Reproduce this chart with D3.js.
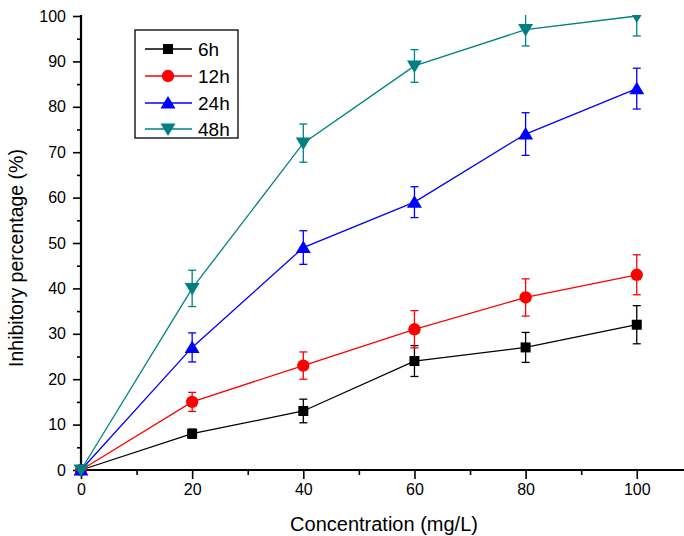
<!DOCTYPE html>
<html><head><meta charset="utf-8">
<script src="https://cdn.jsdelivr.net/npm/d3@7"></script>
<style>body{margin:0;background:#fff}svg{display:block}text{font-family:"Liberation Sans",Arial,sans-serif}</style>
</head><body>
<svg id="c" width="684" height="536"></svg>
<script>
const concentrations = [0, 20, 40, 60, 80, 100];
const seriesNames = ["6h", "12h", "24h", "48h"];
const seriesColors = ["#000000", "#ff0000", "#0000ff", "#008080"];
const seriesShapes = ["square", "circle", "triangle", "triangleDown"];
const values6h  = [0, 8, 13, 24, 27, 32];
const values12h = [0, 15, 23, 31, 38, 43];
const values24h = [0, 27, 49, 59, 74, 84];
const values48h = [0, 40, 72, 89, 97, 100];
const errors6h  = [0, 1.0, 2.6, 3.4, 3.3, 4.2];
const errors12h = [0, 2.1, 3.0, 4.1, 4.1, 4.4];
const errors24h = [0, 3.2, 3.7, 3.4, 4.7, 4.5];
const errors48h = [0, 4.0, 4.2, 3.6, 3.6, 4.4];
const yTicks = [0, 10, 20, 30, 40, 50, 60, 70, 80, 90, 100];
const xTickLabels = [0, 20, 40, 60, 80, 100];

const allValues = [values6h, values12h, values24h, values48h];
const allErrors = [errors6h, errors12h, errors24h, errors48h];

const svg = d3.select("#c");
const x = d3.scaleLinear().domain([0, 108.5]).range([81, 684]);
const y = d3.scaleLinear().domain([0, 100]).range([470, 16]);

svg.append("defs").append("clipPath").attr("id", "clip")
  .append("rect").attr("x", 70).attr("y", 15).attr("width", 620).attr("height", 470);

// axes
const xAxis = d3.axisBottom(x).tickValues(d3.range(0, 101, 10)).tickSize(8).tickPadding(9)
  .tickFormat(d => xTickLabels.includes(d) ? d : "");
const gx = svg.append("g").attr("transform", `translate(0,${y(0)})`).call(xAxis);
gx.select(".domain").attr("d", `M${x(0)},0H684`).attr("stroke-width", 2.2);
gx.selectAll(".tick line").attr("stroke-width", 1.6).attr("y2", d => xTickLabels.includes(d) ? 9 : 5);
gx.selectAll("text").attr("font-size", 16).attr("fill", "#000").attr("y", 14);

const yAxis = d3.axisLeft(y).tickValues(d3.range(0, 101, 5)).tickSize(8).tickPadding(7)
  .tickFormat(d => yTicks.includes(d) ? d : "");
const gy = svg.append("g").attr("transform", `translate(${x(0)},0)`).call(yAxis);
gy.select(".domain").attr("d", `M0,${y(0)}V${y(100)-1}`).attr("stroke-width", 2.2);
gy.selectAll(".tick line").attr("stroke-width", 1.6).attr("x2", d => yTicks.includes(d) ? -8 : -4);
gy.selectAll("text").attr("font-size", 16).attr("fill", "#000").attr("x", -15);

svg.append("text").attr("x", 384).attr("y", 531).attr("text-anchor", "middle")
  .attr("font-size", 20).text("Concentration (mg/L)");
svg.append("text").attr("transform", "translate(23,258) rotate(-90)").attr("text-anchor", "middle")
  .attr("font-size", 19.5).text("Inhibitory percentage (%)");

function symbolPath(shape) {
  if (shape === "square") return d3.symbol(d3.symbolSquare, 100)();
  if (shape === "circle") return d3.symbol(d3.symbolCircle, 120)();
  if (shape === "triangle") return "M0,-7L7.5,5.5L-7.5,5.5Z";
  return "M0,7L7.5,-5.5L-7.5,-5.5Z";
}

const plot = svg.append("g").attr("clip-path", "url(#clip)");
const line = d3.line().x((d, i) => x(concentrations[i])).y(d => y(d));

seriesNames.forEach((name, s) => {
  const col = seriesColors[s];
  const g = plot.append("g");
  g.append("path").datum(allValues[s]).attr("d", line).attr("fill", "none")
    .attr("stroke", col).attr("stroke-width", 1.3);
  allValues[s].forEach((v, i) => {
    const e = allErrors[s][i];
    if (e <= 0) return;
    const cx = x(concentrations[i]);
    const eg = g.append("g").attr("stroke", col).attr("stroke-width", 1.3);
    eg.append("line").attr("x1", cx).attr("x2", cx).attr("y1", y(v + e)).attr("y2", y(v - e));
    eg.append("line").attr("x1", cx - 4).attr("x2", cx + 4).attr("y1", y(v + e)).attr("y2", y(v + e));
    eg.append("line").attr("x1", cx - 4).attr("x2", cx + 4).attr("y1", y(v - e)).attr("y2", y(v - e));
  });
  g.selectAll("path.m").data(allValues[s]).enter().append("path").attr("class", "m")
    .attr("d", symbolPath(seriesShapes[s]))
    .attr("transform", (d, i) => `translate(${x(concentrations[i])},${y(d)})`)
    .attr("fill", col);
});

// legend
const lg = svg.append("g");
lg.append("rect").attr("x", 135).attr("y", 30).attr("width", 103).attr("height", 108)
  .attr("fill", "#fff").attr("stroke", "#000").attr("stroke-width", 1.3);
const legY = [49, 76, 103, 129];
seriesNames.forEach((name, s) => {
  const ly = legY[s];
  lg.append("line").attr("x1", 145).attr("x2", 192).attr("y1", ly).attr("y2", ly)
    .attr("stroke", seriesColors[s]).attr("stroke-width", 1.3);
  lg.append("path").attr("d", symbolPath(seriesShapes[s]))
    .attr("transform", `translate(168,${ly})`).attr("fill", seriesColors[s]);
  lg.append("text").attr("x", 198).attr("y", ly + 7).attr("font-size", 19).text(name);
});
</script>
</body></html>
